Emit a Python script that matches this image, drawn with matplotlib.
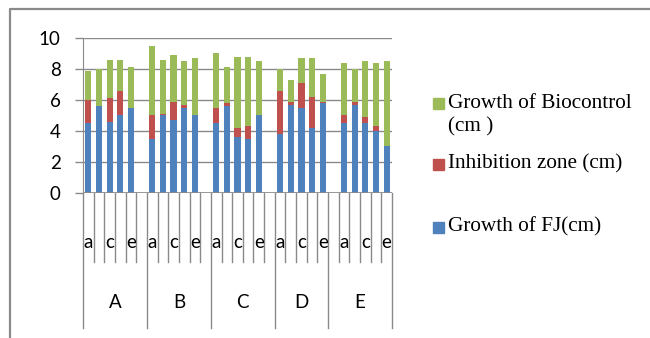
import numpy as np
import matplotlib
matplotlib.use("Agg")
import matplotlib.pyplot as plt
from matplotlib.lines import Line2D
from matplotlib.patches import Rectangle
import matplotlib.transforms as mtransforms

# ---- data ----
groups = ["A", "B", "C", "D", "E"]
sub_labels = [
    ["a", "b", "c", "d", "e", ""],
    ["a", "b", "c", "d", "e", ""],
    ["a", "b", "c", "d", "e", ""],
    ["a", "b", "c", "d", "e"],
    ["", "a", "b", "c", "d", "e"],
]
series_names = ["Growth of FJ(cm)", "Inhibition zone (cm)", "Growth of Biocontrol\n(cm )"]
growth_fj = {
    "A": [4.5, 5.6, 4.6, 5.0, 5.5],
    "B": [3.5, 5.0, 4.7, 5.5, 5.0],
    "C": [4.5, 5.6, 3.6, 3.5, 5.0],
    "D": [3.8, 5.7, 5.5, 4.2, 5.8],
    "E": [4.5, 5.7, 4.5, 4.0, 3.0],
}
inhibition = {
    "A": [1.5, 0.0, 1.5, 1.6, 0.0],
    "B": [1.5, 0.1, 1.2, 0.2, 0.0],
    "C": [1.0, 0.2, 0.6, 0.8, 0.0],
    "D": [2.8, 0.2, 1.6, 2.0, 0.1],
    "E": [0.5, 0.2, 0.4, 0.3, 0.0],
}
biocontrol = {
    "A": [1.9, 2.4, 2.5, 2.0, 2.6],
    "B": [4.5, 3.5, 3.0, 2.8, 3.7],
    "C": [3.5, 2.3, 4.6, 4.5, 3.5],
    "D": [1.4, 1.4, 1.6, 2.5, 1.8],
    "E": [3.4, 2.1, 3.6, 4.1, 5.5],
}
yticks = [0, 2, 4, 6, 8, 10]
colors = ["#4F81BD", "#C0504D", "#9BBB59"]

# ---- layout of category slots ----
slot_labels = []
bar_x, fj, inh, bio = [], [], [], []
idx = 0
for g, subs in zip(groups, sub_labels):
    k = 0
    for s in subs:
        slot_labels.append(s)
        if s != "":
            bar_x.append(idx)
            fj.append(growth_fj[g][k])
            inh.append(inhibition[g][k])
            bio.append(biocontrol[g][k])
            k += 1
        idx += 1
n_slots = idx
fj, inh, bio = np.array(fj), np.array(inh), np.array(bio)

W, H = 650, 338
fig = plt.figure(figsize=(W / 100, H / 100), dpi=100)
ax = fig.add_axes([83 / W, (H - 193) / H, 309 / W, 155 / H])

bw = 0.58
ax.bar(bar_x, fj, width=bw, color=colors[0], zorder=3)
ax.bar(bar_x, inh, width=bw, bottom=fj, color=colors[1], zorder=3)
ax.bar(bar_x, bio, width=bw, bottom=fj + inh, color=colors[2], zorder=3)

ax.set_xlim(-0.5, n_slots - 0.5)
ax.set_ylim(0, 10)
ax.set_yticks(yticks)
ax.set_yticklabels([str(t) for t in yticks], fontsize=13.5, family="Lato")
ax.yaxis.grid(True, color="#8a8a8a", linewidth=1.0, zorder=0)
ax.set_xticks([])
for s in ["top", "right", "bottom"]:
    ax.spines[s].set_visible(False)
ax.spines["left"].set_color("#8a8a8a")
ax.tick_params(axis="y", length=6, width=1, color="#8a8a8a", pad=10)
ax.axhline(0, color="#8a8a8a", linewidth=1.2, zorder=4)

trans = mtransforms.blended_transform_factory(ax.transData, ax.transAxes)
short = -(262 - 193) / 155
long_ = -(328 - 193) / 155
group_edges = []
pos = 0
for subs in sub_labels:
    group_edges.append(pos - 0.5)
    pos += len(subs)
group_edges.append(pos - 0.5)
for b in np.arange(-0.5, n_slots, 1.0):
    y1 = long_ if any(abs(b - e) < 1e-6 for e in group_edges) else short
    ax.add_line(Line2D([b, b], [0, y1], transform=trans, color="#8a8a8a",
                       linewidth=1.0, clip_on=False))

for i, s in enumerate(slot_labels):
    if i % 2 == 0 and s:
        ax.text(i, -(243 - 193) / 155, s, transform=trans, ha="center",
                va="center", fontsize=13.5, family="Lato")
for gi, g in enumerate(groups):
    c = (group_edges[gi] + group_edges[gi + 1]) / 2
    ax.text(c, -(302 - 193) / 155, g, transform=trans, ha="center",
            va="center", fontsize=13.5, family="Lato")

# ---- legend ----
leg_items = [(series_names[2], colors[2], 103, 115), (series_names[1], colors[1], 164, 164),
             (series_names[0], colors[0], 227, 227)]
for name, col, ym, yt in leg_items:
    fig.patches.append(Rectangle((433 / W, (H - ym - 5.5) / H), 11 / W, 11 / H,
                                 transform=fig.transFigure, color=col))
    fig.text(448 / W, (H - yt) / H, name, ha="left", va="center",
             fontsize=15.3, family="Liberation Serif", linespacing=1.3)

# ---- outer frame ----
fig.add_artist(Line2D([10 / W, 10 / W, 1.0], [0.0, (H - 9) / H, (H - 9) / H],
                      transform=fig.transFigure, color="#8a8a8a", linewidth=1.6))

fig.savefig("out.png", dpi=100)
